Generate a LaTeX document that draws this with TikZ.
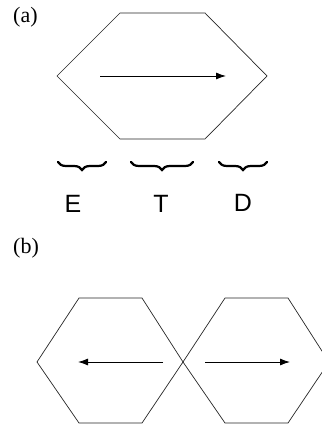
\documentclass[tikz,border=0pt]{standalone}
\usepackage{fontspec}
\newfontfamily\sansfont{Liberation Sans}
\newfontfamily\seriffont{Liberation Serif}
\usetikzlibrary{arrows.meta,decorations.pathreplacing}
\tikzset{
  hexline/.style={draw=black!85, line width=0.7pt, line join=miter},
  flowarrow/.style={draw=black, line width=0.9pt, -{Latex[length=10pt,width=7pt]}},
  bracestyle/.style={draw=black, line width=2.2pt, line cap=round, decorate,
     decoration={brace, amplitude=8pt, aspect=0.5}},
  panel/.style={font=\seriffont\fontsize{22}{22}\selectfont, anchor=west, inner sep=0pt},
  letter/.style={font=\sansfont\fontsize{25}{25}\selectfont, inner sep=0pt}
}
\begin{document}
\begin{tikzpicture}[x=1pt,y=-1pt]
\useasboundingbox (0,0) rectangle (321,427);
% panel (a)
\node[panel] (la) at (13,17) {(a)};
\draw[hexline] (57,76) -- (120,13) -- (205,13) -- (267,76) -- (205,139) -- (120,139) -- cycle;
\coordinate (a1) at (100,76);
\coordinate (a2) at (226,76);
\draw[flowarrow] (a1) -- (a2);
% braces
\coordinate (e1) at (58,162);  \coordinate (e2) at (106,162);
\coordinate (t1) at (131,162); \coordinate (t2) at (193,162);
\coordinate (d1) at (219,162); \coordinate (d2) at (267,162);
\draw[bracestyle] (e2) -- (e1);
\draw[bracestyle] (t2) -- (t1);
\draw[bracestyle] (d2) -- (d1);
\node[letter] (E) at (73,204) {E};
\node[letter] (T) at (161,204) {T};
\node[letter] (D) at (243,203) {D};
% panel (b)
\node[panel] (lb) at (13,248) {(b)};
\draw[hexline] (37,362) -- (79,298) -- (142,298) -- (183,362) -- (142,423) -- (79,423) -- cycle;
\draw[hexline] (183,362) -- (225,298) -- (288,298) -- (329,362) -- (288,423) -- (225,423) -- cycle;
\coordinate (b1) at (163,362);
\coordinate (b2) at (78,362);
\coordinate (c1) at (205,362);
\coordinate (c2) at (290,362);
\draw[flowarrow] (b1) -- (b2);
\draw[flowarrow] (c1) -- (c2);
\end{tikzpicture}
\end{document}
